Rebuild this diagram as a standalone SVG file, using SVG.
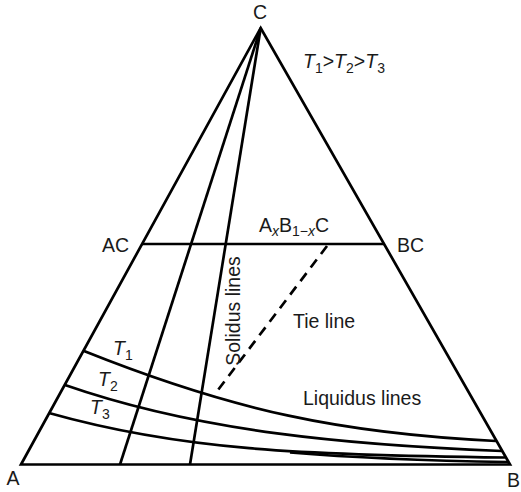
<svg xmlns="http://www.w3.org/2000/svg" width="521" height="492" viewBox="0 0 521 492">
<style>
.ln{fill:none;stroke:#000;stroke-width:2.7;stroke-linejoin:miter}
.tie{fill:none;stroke:#000;stroke-width:2.7;stroke-dasharray:10 7}
text{font-family:"Liberation Sans",Arial,sans-serif;font-size:19.5px;fill:#1a1a1a}
.it{font-style:italic}
.sub{font-size:14px}
</style>
<rect width="521" height="492" fill="#fff"/>
<g id="frame">
<polygon class="ln" points="21,464.5 510,464.5 260.7,28"/>
<line class="ln" x1="142" y1="244" x2="384" y2="244"/>
</g>
<g id="solidus">
<line class="ln" x1="260.7" y1="28" x2="120" y2="464.5"/>
<line class="ln" x1="260.7" y1="28" x2="190" y2="464.5"/>
</g>
<g id="liquidus">
<path class="ln" d="M84,351 C234,411 342,433.5 496,441"/>
<path class="ln" d="M65,385 C200,432 350,445 502,451"/>
<path class="ln" d="M49,413 C180,450 300,455 505,457.5"/>
<path class="ln" d="M290,452.5 Q380,460 508,462"/>
</g>
<g id="tieline">
<line class="tie" x1="327" y1="246" x2="215" y2="394"/>
</g>
<g id="labels">
<text x="260" y="19" text-anchor="middle">C</text>
<text x="13" y="485" text-anchor="middle">A</text>
<text x="507" y="487">B</text>
<text x="129" y="252" text-anchor="end">AC</text>
<text x="397" y="252">BC</text>
<text x="259" y="232">A<tspan class="sub it" dy="4">x</tspan><tspan dy="-4">B</tspan><tspan class="sub" dy="4">1−</tspan><tspan class="sub it">x</tspan><tspan dy="-4">C</tspan></text>
<text x="303" y="68"><tspan class="it">T</tspan><tspan class="sub" dy="5">1</tspan><tspan dy="-5">&gt;</tspan><tspan class="it">T</tspan><tspan class="sub" dy="5">2</tspan><tspan dy="-5">&gt;</tspan><tspan class="it">T</tspan><tspan class="sub" dy="5">3</tspan></text>
<text x="113" y="355"><tspan class="it">T</tspan><tspan class="sub" dy="5">1</tspan></text>
<text x="98" y="386"><tspan class="it">T</tspan><tspan class="sub" dy="5">2</tspan></text>
<text x="90" y="414"><tspan class="it">T</tspan><tspan class="sub" dy="5">3</tspan></text>
<text x="293" y="328">Tie line</text>
<text x="303" y="405">Liquidus lines</text>
<text transform="translate(240,311) rotate(-90)" text-anchor="middle">Solidus lines</text>
</g>
</svg>
